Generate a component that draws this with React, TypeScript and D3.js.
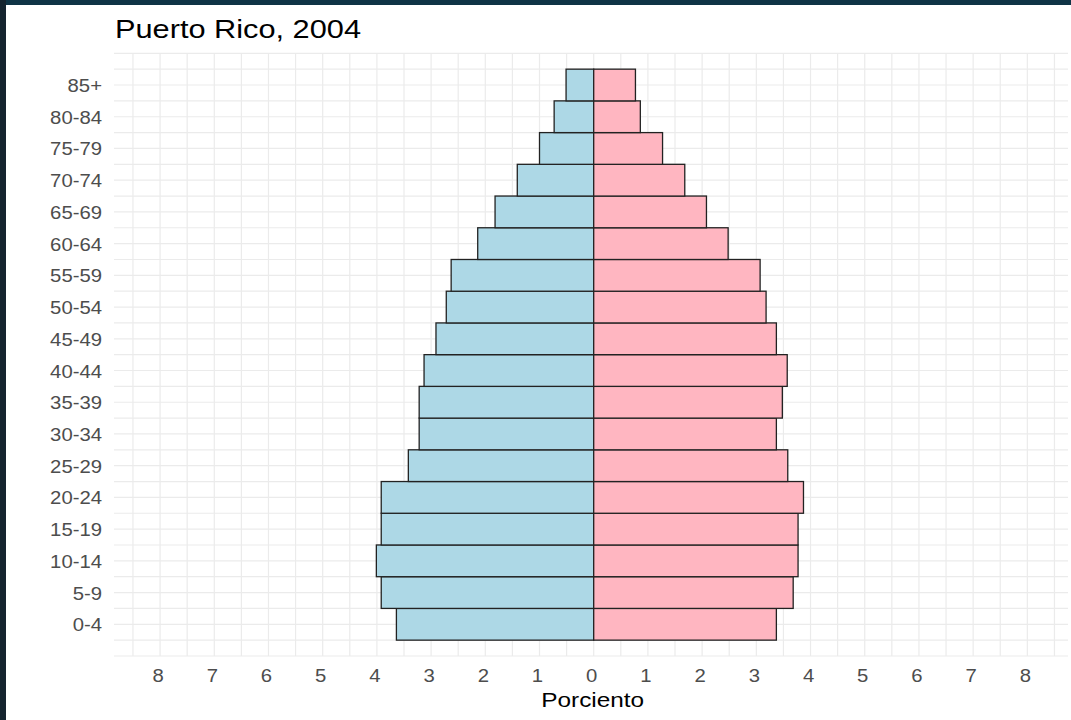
import React, { useEffect, useRef } from 'react';
import * as d3 from 'd3';

// age groups, youngest first
const ageGroups: string[] = [
  '0-4', '5-9', '10-14', '15-19', '20-24', '25-29', '30-34', '35-39', '40-44',
  '45-49', '50-54', '55-59', '60-64', '65-69', '70-74', '75-79', '80-84', '85+'
];

// percent of population
const hombres: number[] = [
  3.64, 3.92, 4.01, 3.92, 3.92, 3.42, 3.22, 3.22, 3.13,
  2.91, 2.72, 2.63, 2.14, 1.82, 1.41, 1.0, 0.73, 0.51
];
const mujeres: number[] = [
  3.37, 3.68, 3.77, 3.77, 3.87, 3.58, 3.37, 3.48, 3.57,
  3.37, 3.18, 3.07, 2.48, 2.08, 1.68, 1.27, 0.86, 0.77
];

const xTicks: number[] = [-8, -7, -6, -5, -4, -3, -2, -1, 0, 1, 2, 3, 4, 5, 6, 7, 8];

const W = 1071;
const H = 720;
// the screenshot is a bit wider than tall, so text is stretched too
const STRETCH = 1.16;

const App: React.FC = () => {
  const svgRef = useRef<SVGSVGElement>(null);

  useEffect(() => {
    if (!svgRef.current) return;
    const svg = d3.select(svgRef.current);
    svg.selectAll('*').remove();

    const font = 'Arial, "Liberation Sans", sans-serif';

    const label = (
      parent: d3.Selection<any, any, any, any>,
      x: number, y: number, txt: string, size: number, fill: string, anchor: string
    ) => {
      parent.append('g')
        .attr('transform', `translate(${x},${y}) scale(${STRETCH},1)`)
        .append('text')
        .attr('text-anchor', anchor)
        .attr('font-family', font)
        .attr('font-size', `${size}px`)
        .attr('fill', fill)
        .text(txt);
    };

    svg.append('rect').attr('width', W).attr('height', H).attr('fill', '#ffffff');

    // dark frame of the screenshot
    svg.append('rect').attr('x', 0).attr('y', 0).attr('width', W).attr('height', 5).attr('fill', '#0f3446');
    svg.append('rect').attr('x', 0).attr('y', 0).attr('width', 6).attr('height', H).attr('fill', '#15242f');

    const x = d3.scaleLinear().domain([-8.85, 8.75]).range([114, 1068]);
    const y = d3.scaleLinear().domain([0, 19]).range([656, 53.3]);

    // grid
    const g = svg.append('g');
    const vLines = d3.range(-17, 18).map(d => d / 2);
    const hLines = d3.range(0, 39).map(d => d / 2);
    g.selectAll('.vgrid')
      .data(vLines)
      .enter()
      .append('line')
      .attr('x1', d => x(d))
      .attr('x2', d => x(d))
      .attr('y1', y(19))
      .attr('y2', y(0))
      .attr('stroke', '#ebebeb')
      .attr('stroke-width', 1.2);
    g.selectAll('.hgrid')
      .data(hLines)
      .enter()
      .append('line')
      .attr('x1', x.range()[0])
      .attr('x2', x.range()[1])
      .attr('y1', d => y(d))
      .attr('y2', d => y(d))
      .attr('stroke', '#ebebeb')
      .attr('stroke-width', 1.2);

    // bars
    g.selectAll('.male')
      .data(hombres)
      .enter()
      .append('rect')
      .attr('x', d => x(-d))
      .attr('y', (_, i) => y(i + 1.5))
      .attr('width', d => x(0) - x(-d))
      .attr('height', y(0.5) - y(1.5))
      .attr('fill', '#add8e6')
      .attr('stroke', '#222222')
      .attr('stroke-width', 1.3);

    g.selectAll('.female')
      .data(mujeres)
      .enter()
      .append('rect')
      .attr('x', x(0))
      .attr('y', (_, i) => y(i + 1.5))
      .attr('width', d => x(d) - x(0))
      .attr('height', y(0.5) - y(1.5))
      .attr('fill', '#ffb6c1')
      .attr('stroke', '#222222')
      .attr('stroke-width', 1.3);

    // y labels
    ageGroups.forEach((a, i) => {
      label(g, 102, y(i + 1) + 7, a, 17.5, '#4d4d4d', 'end');
    });

    // x labels
    xTicks.forEach(t => {
      label(g, x(t) - 2, 682, String(Math.abs(t)), 17.5, '#4d4d4d', 'middle');
    });

    label(svg, x(0) - 1, 707, 'Porciento', 21, '#000000', 'middle');
    label(svg, 115, 37.5, 'Puerto Rico, 2004', 26.5, '#000000', 'start');
  }, []);

  return (
    <div style={{ position: 'absolute', left: 0, top: 0 }}>
      <svg ref={svgRef} width={W} height={H} style={{ display: 'block' }} />
    </div>
  );
};

export default App;
